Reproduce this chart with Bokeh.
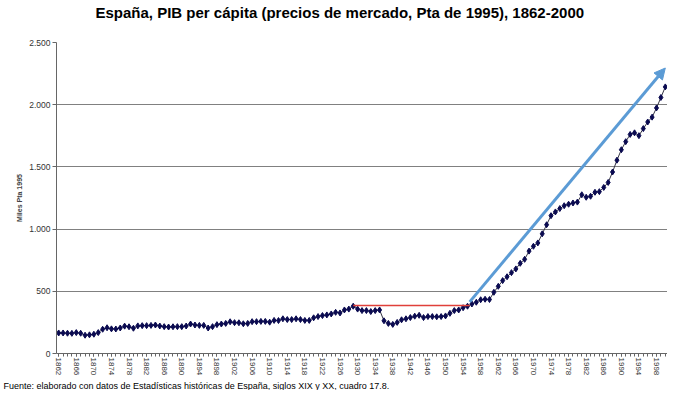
from bokeh.plotting import figure
from bokeh.models import Range1d, FixedTicker, Arrow, NormalHead, Title, ColumnDataSource
from bokeh.embed import file_html
from bokeh.resources import INLINE

years = list(range(1862, 2001))
pib = [
    165, 165, 163, 162, 168, 163, 147, 150, 155, 168,
    195, 207, 198, 197, 205, 220, 215, 203, 222, 224,
    224, 226, 229, 221, 216, 213, 215, 216, 216, 221,
    237, 229, 226, 226, 205, 216, 232, 237, 242, 255,
    248, 247, 239, 242, 256, 256, 258, 258, 252, 266,
    265, 279, 273, 273, 279, 273, 266, 266, 287, 297,
    305, 310, 318, 331, 326, 350, 357, 380, 357, 345,
    345, 337, 345, 350, 263, 242, 234, 250, 271, 279,
    289, 300, 307, 289, 297, 297, 295, 297, 302, 323,
    345, 350, 368, 380, 398, 412, 432, 436, 434, 492,
    540, 586, 617, 650, 680, 725, 757, 823, 862, 889,
    962, 1035, 1108, 1138, 1165, 1188, 1200, 1210, 1217, 1276,
    1256, 1264, 1296, 1301, 1335, 1375, 1459, 1554, 1638, 1703,
    1761, 1774, 1751, 1808, 1861, 1900, 1974, 2058, 2143,
]
label_years = list(range(1862, 2000, 4))
y_ticks = [0, 500, 1000, 1500, 2000, 2500]
y_tick_labels = ["0", "500", "1.000", "1.500", "2.000", "2.500"]

# annotation lines (data coordinates)
red_x = [1929, 1955.5]
red_y = [385, 385]
arrow_x = [1955.5, 2000]
arrow_y = [415, 2295]

title_text = "España, PIB per cápita (precios de mercado, Pta de 1995), 1862-2000"
source_text = ("Fuente: elaborado con datos de Estadísticas históricas de España, "
               "siglos XIX y XX, cuadro 17.8.")

FONT = "Liberation Sans"
BLUE = "#5b9bd5"

p = figure(width=667, height=390, output_backend="svg", toolbar_location=None,
           x_range=Range1d(1861.5, 2000.5), y_range=Range1d(0, 2500),
           min_border_left=56, min_border_right=0, min_border_top=42,
           min_border_bottom=32)
p.title.text = ""

p.outline_line_color = None
p.background_fill_color = "white"
p.border_fill_color = "white"

p.xgrid.visible = False
p.ygrid.grid_line_color = "#808080"
p.ygrid.grid_line_width = 1

p.xaxis.ticker = FixedTicker(ticks=label_years, minor_ticks=years)
p.xaxis.major_label_orientation = "vertical"
p.xaxis.major_label_text_font = FONT
p.xaxis.major_label_text_font_size = "8px"
p.xaxis.major_label_text_color = "#333333"
p.xaxis.major_tick_in = 0
p.xaxis.major_tick_out = 3
p.xaxis.minor_tick_in = 0
p.xaxis.minor_tick_out = 3
p.xaxis.axis_line_color = "#666666"
p.xaxis.major_tick_line_color = "#666666"
p.xaxis.minor_tick_line_color = "#666666"
p.xaxis.major_label_standoff = 1

p.yaxis.ticker = FixedTicker(ticks=y_ticks)
p.yaxis.major_label_overrides = {t: l for t, l in zip(y_ticks, y_tick_labels)}
p.yaxis.major_label_text_font = FONT
p.yaxis.major_label_text_font_size = "8.5px"
p.yaxis.major_label_text_color = "#333333"
p.yaxis.major_label_standoff = 2
p.yaxis.major_tick_in = 0
p.yaxis.major_tick_out = 4
p.yaxis.minor_tick_out = 0
p.yaxis.minor_tick_in = 0
p.yaxis.axis_line_color = "#666666"
p.yaxis.major_tick_line_color = "#666666"
p.yaxis.axis_label = "Miles Pta 1995"
p.yaxis.axis_label_text_font = FONT
p.yaxis.axis_label_text_font_size = "7px"
p.yaxis.axis_label_text_font_style = "bold"
p.yaxis.axis_label_standoff = 3

# title: spacer (closest to frame) then the main title
p.add_layout(Title(text=" ", text_font_size="10px", standoff=9), "above")
p.add_layout(Title(text=title_text, text_font=FONT, text_font_size="15px",
                   text_font_style="bold", text_color="#000000",
                   align="left", offset=39, standoff=0), "above")

src = ColumnDataSource(dict(year=years, pib=pib))
p.line("year", "pib", source=src, line_color="#333344", line_width=1)
p.scatter("year", "pib", source=src, marker="diamond", size=6,
          fill_color="#0a0a50", line_color="#0a0a50")

p.line(red_x, red_y, line_color="#e0403a", line_width=1.5)

p.add_layout(Arrow(end=NormalHead(size=11, fill_color=BLUE, line_color=BLUE),
                   x_start=arrow_x[0], y_start=arrow_y[0],
                   x_end=arrow_x[1], y_end=arrow_y[1],
                   line_color=BLUE, line_width=3))

p.add_layout(Title(text=source_text, align="left", text_font=FONT,
                   text_font_size="9px", text_font_style="normal",
                   text_color="#000000", offset=-53, standoff=0), "below")

open("out.html", "w").write(file_html(p, INLINE))
